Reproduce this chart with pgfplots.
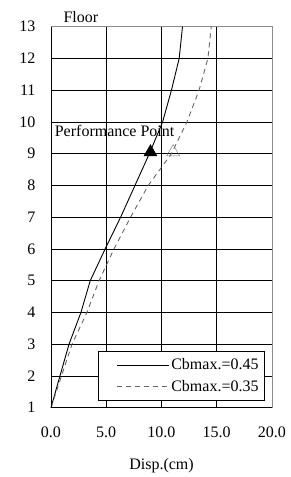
\documentclass[border=0pt]{standalone}
\usepackage{fontspec}
\setmainfont{Liberation Serif}
\usepackage{pgfplots}
\pgfplotsset{compat=1.18}
\begin{document}
\fontsize{16}{19}\selectfont
\begin{tikzpicture}
\useasboundingbox (-51pt,-69.3pt) rectangle (239pt,407.7pt);
\begin{axis}[
  scale only axis, width=221pt, height=381pt,
  xmin=0, xmax=20, ymin=1, ymax=13, clip=false,
  xtick={0,5,10,15,20}, ytick={1,2,...,13},
  major tick length=0pt,
  axis line style={draw=black!45, line width=0.8pt},
  extra x ticks={5,10,15}, extra y ticks={2,3,...,12},
  extra x tick labels={}, extra y tick labels={},
  extra tick style={grid=major, major tick length=0pt},
  grid style={black, line width=0.9pt},
  /pgf/number format/assume math mode=true,
  tick label style={font=\fontsize{16}{19}\selectfont},
  xticklabel style={/pgf/number format/.cd, fixed, fixed zerofill, precision=1, /tikz/.cd, yshift=-14pt},
  yticklabel style={xshift=-10pt},
  legend cell align=left,
  legend style={at={(0.968,0.018)}, anchor=south east, draw=black, fill=white,
    line width=0.8pt, font=\fontsize{16}{19}\selectfont, inner xsep=4pt, inner ysep=5pt,
    row sep=4pt, /tikz/every even column/.append style={column sep=1pt}},
  legend image code/.code={\path (0pt,0pt); \draw[#1, mark=none] (14pt,0pt) -- (66pt,0pt);},
]
\addplot[black, line width=0.9pt] coordinates {
  (0,1)(0.81,2)(1.63,3)(2.71,4)(3.55,5)(4.9,6)(6.3,7)(7.6,8)(8.9,9)(10.1,10)(10.9,11)(11.6,12)(11.9,13)};
\addlegendentry{Cbmax.=0.45}
\addplot[black!60, line width=0.9pt, dash pattern=on 5pt off 4pt] coordinates {
  (0,1)(0.95,2)(1.9,3)(3.25,4)(4.35,5)(5.7,6)(7.2,7)(8.8,8)(10.9,9)(12.3,10)(13.4,11)(14.2,12)(14.5,13)};
\addlegendentry{Cbmax.=0.35}
\addplot[only marks, mark=triangle*, mark size=7.5pt, black, forget plot] coordinates {(9.0,9.05)};
\addplot[only marks, mark=triangle, mark size=7.5pt, black!55, forget plot] coordinates {(11.05,9.05)};
\draw[black, line width=0.9pt] (rel axis cs:0,1) -- (rel axis cs:0,0) -- (rel axis cs:1,0);
\node[anchor=west] at (rel axis cs:0,1) [xshift=7pt, yshift=10pt] {Floor};
\node[anchor=base west, inner sep=0pt] at (axis cs:0.33,9.535) {Performance Point};
\node at (rel axis cs:0.5,0) [yshift=-58pt] {Disp.(cm)};
\end{axis}
\end{tikzpicture}
\end{document}
